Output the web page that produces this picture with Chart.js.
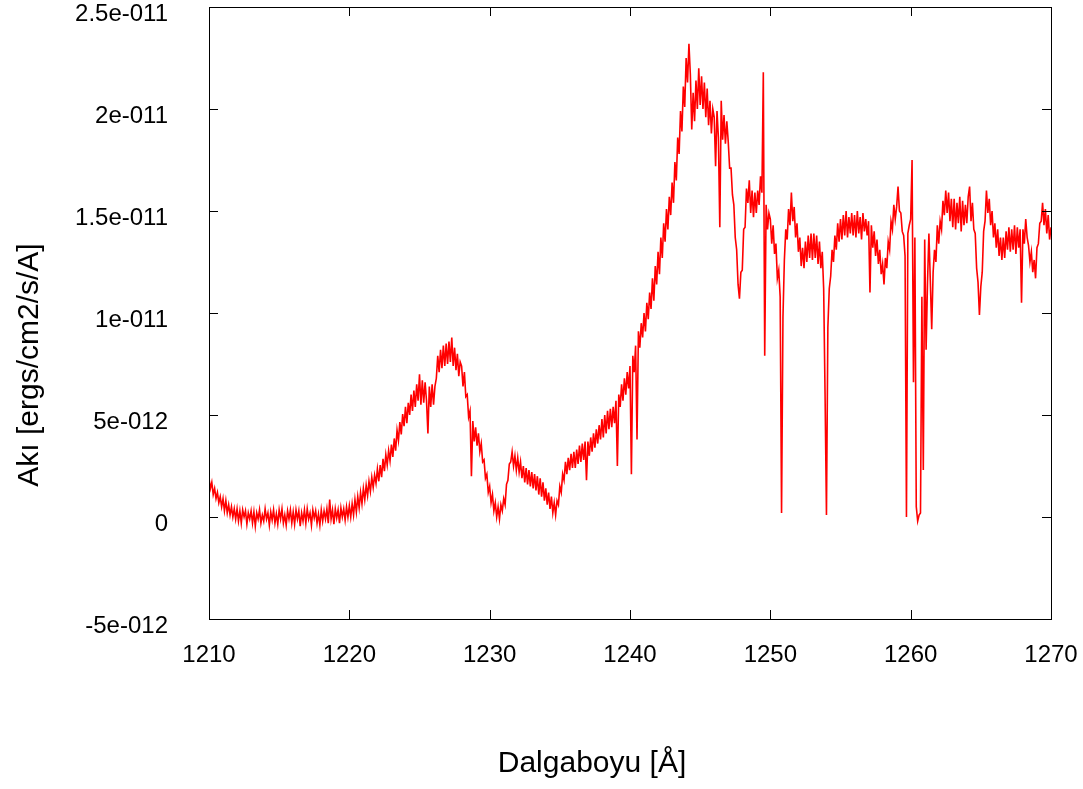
<!DOCTYPE html>
<html>
<head>
<meta charset="utf-8">
<script src="https://cdn.jsdelivr.net/npm/chart.js@4/dist/chart.umd.min.js"></script>
<style>
  html, body { margin: 0; padding: 0; background: #ffffff; }
  #wrap { width: 1083px; height: 789px; position: relative; }
</style>
</head>
<body>
<div id="wrap"><canvas id="c" width="1083" height="789"></canvas></div>
<script>
// Wavelength grid (Å): start and step of the sampled spectrum
const WL_START = 1210.0;
const WL_STEP = 0.1;

// Flux in units of 1e-12 ergs/cm2/s/A, 0.1 Å steps
const flux1210 = [
  1.9, 1.4, 1.7, 1.1, 1.4, 0.9, 1.2, 0.7, 1.0, 0.5,
  0.9, 0.3, 0.8, 0.2, 0.6, 0.1, 0.5, 0.0, 0.4, -0.1,
  0.4, -0.2, 0.3, -0.3, 0.35, 0.0, 0.3, -0.35, 0.2, -0.1,
  0.3, -0.3, 0.25, -0.45, 0.2, -0.1, 0.35, -0.3, 0.1, -0.2,
  0.4, -0.1, 0.2, -0.4, 0.25, -0.15, 0.35, -0.3, 0.15, -0.35,
  0.35, -0.1, 0.4, -0.3, 0.1, -0.4, 0.3, -0.1, 0.35, -0.3,
  0.25, -0.35, 0.35, -0.1, 0.3, -0.45, 0.2, -0.2, 0.35, -0.3,
  0.4, -0.1, 0.2, -0.4, 0.35, -0.05, 0.3, -0.3, 0.15, -0.4,
  0.35, -0.2, 0.3, -0.1, 0.4, -0.3, 0.85, -0.1, 0.35, -0.35,
  0.4, -0.05, 0.35, -0.3, 0.45, 0.0, 0.4, -0.15, 0.5, 0.0
];
const flux1220 = [
  0.55, 0.0, 0.65, 0.1, 0.85, 0.25, 1.0, 0.45, 1.2, 0.65,
  1.4, 0.85, 1.55, 1.05, 1.75, 1.25, 1.95, 1.45, 2.05, 1.65,
  2.35, 1.75, 2.55, 1.95, 2.85, 2.25, 3.05, 2.55, 3.25, 2.75,
  3.55, 2.95, 3.85, 3.25, 4.25, 3.75, 4.65, 4.05, 5.05, 4.45,
  5.4, 4.6, 5.6, 5.0, 6.0, 5.2, 6.2, 5.4, 6.5, 5.7,
  7.0, 5.5, 6.7, 5.6, 6.6, 5.7, 4.1, 6.4, 5.4, 6.5,
  5.5, 6.4, 6.8, 7.9, 7.1, 8.2, 7.3, 8.4, 7.4, 8.5,
  7.5, 8.6, 7.6, 8.8, 7.4, 8.3, 7.2, 8.0, 6.9, 7.6,
  7.4, 6.4, 7.1, 5.9, 6.0, 4.9, 5.2, 2.0, 4.7, 3.7,
  4.4, 3.5, 4.1, 3.2, 3.6, 2.7, 2.8, 1.9, 2.1, 1.2
];
const flux1230 = [
  1.5, 0.7, 1.1, 0.3, 0.7, 0.0, 0.5, -0.1, 0.6, 0.3,
  0.9, 0.6, 1.6, 1.8, 2.6, 2.7, 3.2, 2.5, 3.0, 2.3,
  2.9, 2.2, 2.7, 1.9, 2.5, 1.7, 2.4, 1.6, 2.3, 1.5,
  2.2, 1.4, 2.1, 1.3, 2.0, 1.1, 1.9, 1.0, 1.7, 0.8,
  1.4, 0.6, 1.2, 0.4, 1.0, 0.2, 0.7, 0.1, 0.8, 0.6,
  1.5, 1.2, 2.1, 1.8, 2.7, 2.1, 2.9, 2.3, 3.1, 2.4,
  3.2, 2.4, 3.3, 2.6, 3.5, 2.7, 3.6, 2.8, 3.7, 1.8,
  3.7, 3.0, 3.9, 3.2, 4.1, 3.4, 4.3, 3.6, 4.5, 3.8,
  4.8, 3.9, 5.0, 4.1, 5.2, 4.3, 5.3, 4.4, 5.4, 4.6,
  5.7, 2.5, 6.0, 5.4, 6.5, 5.7, 6.8, 6.0, 7.1, 6.3
];
const flux1240 = [
  7.4, 2.1, 7.9, 7.1, 8.4, 3.8, 9.1, 8.3, 9.5, 8.8,
  10.0, 9.1, 10.5, 9.7, 11.0, 10.2, 11.7, 10.6, 12.3, 11.4,
  13.0, 11.9, 13.7, 12.7, 14.4, 13.5, 15.1, 14.1, 15.7, 14.8,
  16.4, 15.4, 17.4, 16.5, 18.6, 17.8, 19.9, 18.9, 21.1, 20.1,
  22.5, 21.3, 23.2, 21.7, 19.0, 20.8, 19.4, 21.4, 20.0, 22.0,
  20.2, 21.6, 20.0, 21.3, 19.6, 21.0, 19.2, 20.4, 18.8, 20.0,
  19.6, 17.2, 19.9, 18.6, 14.2, 20.4, 18.5, 19.7, 18.3, 19.4,
  18.4, 17.1, 17.1, 15.8, 15.3, 13.7, 13.1, 11.4, 10.7, 12.0,
  12.1, 14.1, 14.2, 16.1, 15.4, 16.5, 14.9, 16.0, 14.7, 15.9,
  14.9, 16.0, 15.3, 16.7, 15.9, 21.8, 7.9, 15.3, 14.1, 14.9
];
const flux1250 = [
  14.6, 13.4, 14.3, 12.9, 13.4, 11.7, 12.1, 10.8, 0.2, 9.8,
  12.6, 14.1, 13.6, 15.1, 14.3, 15.9, 14.5, 15.2, 13.7, 14.4,
  13.0, 13.7, 12.3, 13.2, 12.2, 13.5, 12.5, 13.8, 12.7, 13.9,
  12.6, 13.9, 12.7, 13.8, 12.4, 13.5, 12.2, 13.0, 11.2, 6.0,
  0.1, 9.3, 11.2, 11.8, 13.1, 12.5, 13.8, 13.1, 14.4, 13.5,
  14.6, 13.6, 14.8, 13.8, 15.0, 13.7, 14.7, 13.9, 14.9, 13.8,
  14.8, 13.7, 15.0, 13.9, 14.7, 13.6, 14.9, 14.0, 14.6, 13.8,
  14.5, 11.0, 14.3, 13.2, 14.0, 12.8, 13.6, 12.4, 13.1, 11.9,
  12.4, 11.4, 12.7, 12.2, 13.5, 13.1, 14.5, 14.1, 15.3, 14.6,
  15.2, 16.2, 15.0, 14.9, 14.0, 13.8, 12.8, 0.0, 13.9, 14.3
];
const flux1260 = [
  14.6, 17.5, 6.6, 13.7, 0.5, -0.2, 0.1, 0.2, 10.8, 2.3,
  13.6, 8.2, 11.5, 13.9, 11.6, 9.2, 12.0, 13.1, 12.5, 14.3,
  13.4, 14.5, 14.1, 15.5, 14.8, 16.0, 14.9, 15.9, 14.5, 15.6,
  14.2, 15.6, 14.1, 15.4, 14.4, 15.7, 14.0, 15.5, 14.3, 15.3,
  14.4, 15.7, 16.2, 14.5, 15.4, 14.1, 13.9, 12.2, 11.5, 9.9,
  11.3, 12.0, 14.0, 14.5, 16.0, 14.9, 15.6, 14.3, 15.0, 13.7,
  14.4, 13.2, 14.1, 12.8, 13.7, 12.6, 13.7, 12.7, 14.0, 13.1,
  14.2, 13.0, 14.1, 13.1, 14.3, 12.9, 14.2, 13.2, 14.1, 10.5,
  14.1, 13.4, 14.6, 13.7, 13.3, 12.5, 13.0, 12.0, 12.6, 11.7,
  13.2, 13.4, 14.4, 14.5, 15.4, 14.3, 15.1, 13.9, 14.8, 13.6
];
const flux1270 = [14.2];

// Axis ticks
const xTicks = [1210, 1220, 1230, 1240, 1250, 1260, 1270];
const yTicks = [-5, 0, 5, 10, 15, 20, 25];
const yTickLabels = ['-5e-012', '0', '5e-012', '1e-011', '1.5e-011', '2e-011', '2.5e-011'];
const xTitle = 'Dalgaboyu [Å]';
const yTitle = 'Akı [ergs/cm2/s/A]';

const flux = [].concat(flux1210, flux1220, flux1230, flux1240, flux1250, flux1260, flux1270);
const points = flux.map((v, i) => ({ x: +(WL_START + i * WL_STEP).toFixed(1), y: v }));

const FONT = '"Liberation Sans", Arial, sans-serif';

const framePlugin = {
  id: 'frame',
  afterDatasetsDraw(chart) {
    const { ctx, chartArea: a, scales } = chart;
    ctx.save();
    ctx.strokeStyle = '#000000';
    ctx.lineWidth = 1;
    ctx.beginPath();
    const L = 9;
    xTicks.forEach(t => {
      const px = Math.round(scales.x.getPixelForValue(t)) + 0.5;
      ctx.moveTo(px, a.bottom); ctx.lineTo(px, a.bottom - L);
      ctx.moveTo(px, a.top); ctx.lineTo(px, a.top + L);
    });
    yTicks.forEach(t => {
      const py = Math.round(scales.y.getPixelForValue(t)) + 0.5;
      ctx.moveTo(a.left, py); ctx.lineTo(a.left + L, py);
      ctx.moveTo(a.right, py); ctx.lineTo(a.right - L, py);
    });
    ctx.stroke();
    ctx.strokeRect(Math.round(a.left) + 0.5, Math.round(a.top) + 0.5,
                   Math.round(a.right - a.left), Math.round(a.bottom - a.top));
    // axis titles
    ctx.fillStyle = '#000000';
    ctx.font = '30px ' + FONT;
    ctx.textAlign = 'center';
    ctx.textBaseline = 'middle';
    ctx.fillText(xTitle, 592, 764);
    ctx.translate(30, 365);
    ctx.rotate(-Math.PI / 2);
    ctx.fillText(yTitle, 0, 0);
    ctx.restore();
  }
};

new Chart(document.getElementById('c'), {
  type: 'line',
  data: {
    datasets: [{
      data: points,
      borderColor: '#ff0000',
      borderWidth: 1.6,
      pointRadius: 0,
      tension: 0,
      fill: false
    }]
  },
  options: {
    responsive: false,
    animation: false,
    parsing: true,
    layout: { padding: { left: 0, right: 32, top: 7, bottom: 0 } },
    plugins: { legend: { display: false }, tooltip: { enabled: false } },
    scales: {
      x: {
        type: 'linear',
        min: 1210, max: 1270,
        afterBuildTicks(scale) { scale.ticks = xTicks.map(v => ({ value: v })); },
        afterFit(scale) { scale.height = 170; scale.paddingLeft = 0; scale.paddingRight = 0; },
        grid: { display: false, drawTicks: false },
        border: { display: false },
        ticks: {
          padding: 22,
          color: '#000000',
          font: { family: FONT, size: 24 },
          maxRotation: 0,
          callback: v => String(v)
        }
      },
      y: {
        type: 'linear',
        min: -5, max: 25,
        afterBuildTicks(scale) { scale.ticks = yTicks.map(v => ({ value: v })); },
        afterFit(scale) { scale.width = 209; scale.paddingTop = 0; scale.paddingBottom = 0; },
        grid: { display: false, drawTicks: false },
        border: { display: false },
        ticks: {
          padding: 41,
          labelOffset: 7,
          color: '#000000',
          font: { family: FONT, size: 24 },
          callback: v => yTickLabels[yTicks.indexOf(v)]
        }
      }
    }
  },
  plugins: [framePlugin]
});
</script>
</body>
</html>
